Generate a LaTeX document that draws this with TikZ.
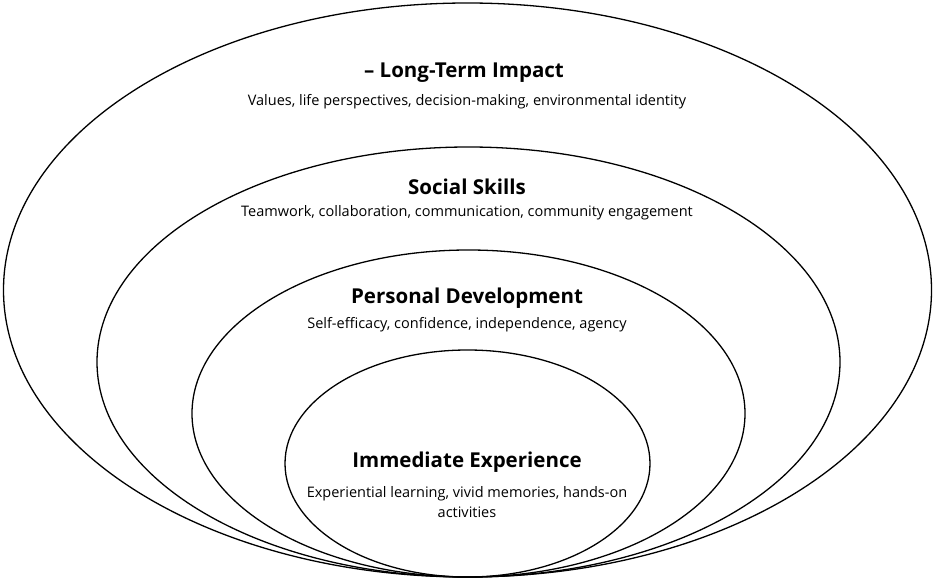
\documentclass[tikz,border=0pt]{standalone}
\usepackage{fontspec}
\setmainfont{Open Sans}
\begin{document}
\begin{tikzpicture}[x=1pt,y=-1pt,
  ring/.style={draw=black,line width=1.3pt},
  head/.style={font=\fontsize{20.5}{24}\selectfont\bfseries},
  sub/.style={font=\fontsize{14.5}{20}\selectfont,align=center}]
\useasboundingbox (0,0) rectangle (935,580);
\draw[ring] (467.5,290) ellipse [x radius=464,y radius=287];
\draw[ring] (468.5,362) ellipse [x radius=371.5,y radius=215];
\draw[ring] (468.5,413.5) ellipse [x radius=276.5,y radius=163.5];
\draw[ring] (467.5,463.5) ellipse [x radius=182.5,y radius=113.5];
\node[head] (h1) at (464,73) {– Long-Term Impact};
\node[sub] (s1) at (467,102) {Values, life perspectives, decision-making, environmental identity};
\node[head] (h2) at (467,187) {Social Skills};
\node[sub] (s2) at (467,213) {Teamwork, collaboration, communication, community engagement};
\node[head] (h3) at (467,298) {Personal Development};
\node[sub] (s3) at (467,325) {Self-efficacy, confidence, independence, agency};
\node[head] (h4) at (467,462) {Immediate Experience};
\node[sub] (s4) at (467,502) {Experiential learning, vivid memories, hands-on\\activities};
\end{tikzpicture}
\end{document}
